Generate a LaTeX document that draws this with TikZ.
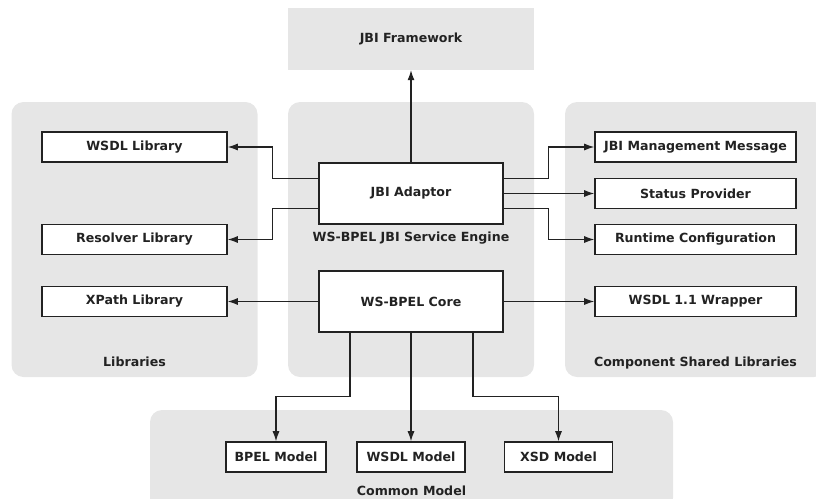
\documentclass[tikz,border=0pt]{standalone}
\usepackage{fontspec}
\setmainfont{DejaVu Sans}
\usetikzlibrary{arrows.meta}
\definecolor{panelgray}{HTML}{E6E6E6}
\definecolor{ink}{HTML}{222222}
\begin{document}
\begin{tikzpicture}[
                    x=1pt, y=-1pt,
                    font=\fontsize{12.6}{14}\selectfont\bfseries,
                    text=ink,
                    panel/.style={fill=panelgray, rounded corners=12pt, inner sep=0pt},
                    part/.style={draw=ink, line width=1.6pt, fill=white, inner sep=0pt, minimum height=30pt},
                    link/.style={draw=ink, line width=1.1pt, -{Latex[length=10pt,width=7pt]}}
                ]
                \clip (0,0) rectangle (816,498);

                % grey areas
                \node[panel, rounded corners=0pt, minimum width=246pt, minimum height=62pt] (framework) at (411,39) {JBI Framework};
                \node[panel, minimum width=246pt, minimum height=275pt] (libs)   at (134.5,239.5) {};
                \node[panel, minimum width=246pt, minimum height=275pt] (engine) at (411,239.5) {};
                \node[panel, minimum width=261pt, minimum height=275pt] (shared) at (695.5,239.5) {};
                \node[panel, minimum width=523pt, minimum height=100pt] (common) at (411.5,460) {};

                \node (libstitle)   at (134.5,362) {Libraries};
                \node (enginetitle) at (411,238)   {WS-BPEL JBI Service Engine};
                \node (sharedtitle) at (695.5,363) {Component Shared Libraries};
                \node (commontitle) at (411.5,491) {Common Model};

                % boxes
                \node[part, minimum width=185pt] (wsdllib)  at (134.5,147)   {WSDL Library};
                \node[part, minimum width=185pt] (reslib)   at (134.5,239.5) {Resolver Library};
                \node[part, minimum width=185pt] (xpathlib) at (134.5,301.5) {XPath Library};

                \node[part, minimum width=184pt, minimum height=61pt] (adaptor) at (411,193.5) {JBI Adaptor};
                \node[part, minimum width=184pt, minimum height=61pt] (core)    at (411,301.5) {WS-BPEL Core};

                \node[part, minimum width=201pt] (mgmt)    at (695.5,147)   {JBI Management Message};
                \node[part, minimum width=201pt] (status)  at (695.5,193.5) {Status Provider};
                \node[part, minimum width=201pt] (runtime) at (695.5,239.5) {Runtime Configuration};
                \node[part, minimum width=201pt] (wrapper) at (695.5,301.5) {WSDL 1.1 Wrapper};

                \node[part, minimum width=100pt] (bpelmodel) at (276,457)   {BPEL Model};
                \node[part, minimum width=108pt] (wsdlmodel) at (411,457)   {WSDL Model};
                \node[part, minimum width=108pt] (xsdmodel)  at (558.5,457) {XSD Model};

                % connectors
                \draw[link] (adaptor.north) -- (framework.south);

                \draw[link] ([yshift=15pt]adaptor.west)  -- ++(-46,0) |- (wsdllib.east);
                \draw[link] ([yshift=-15pt]adaptor.west) -- ++(-46,0) |- (reslib.east);
                \draw[link] (core.west) -- (xpathlib.east);

                \draw[link] ([yshift=15pt]adaptor.east)  -- ++(45,0) |- (mgmt.west);
                \draw[link] (adaptor.east) -- (status.west);
                \draw[link] ([yshift=-15pt]adaptor.east) -- ++(45,0) |- (runtime.west);
                \draw[link] (core.east) -- (wrapper.west);

                \draw[link] ([xshift=-61pt]core.south) -- ++(0,64) -| (bpelmodel.north);
                \draw[link] (core.south) -- (wsdlmodel.north);
                \draw[link] ([xshift=62pt]core.south)  -- ++(0,64) -| (xsdmodel.north);

            \end{tikzpicture}
\end{document}
